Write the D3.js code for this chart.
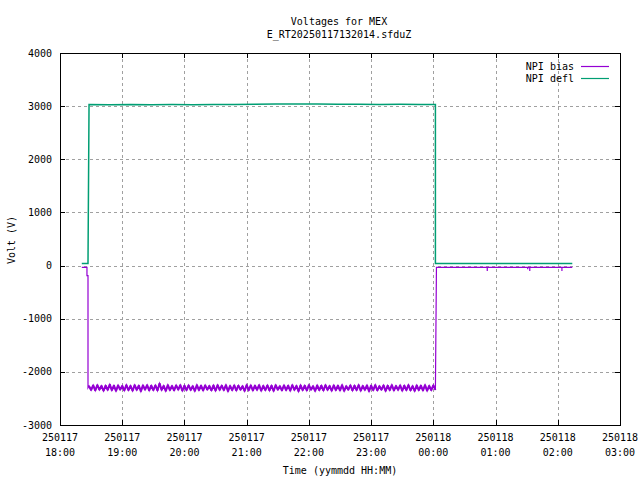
<!DOCTYPE html>
<html>
<head>
<meta charset="utf-8">
<script src="https://cdn.jsdelivr.net/npm/d3@7"></script>
<style>
  html, body { margin: 0; padding: 0; background: #fff; }
  svg text { font-family: "DejaVu Sans Mono", monospace; font-size: 10px; fill: #000; }
</style>
</head>
<body>
<svg id="chart" width="640" height="480"></svg>
<script>
// ---------------- DATA ----------------
const titleLines = ["Voltages for MEX", "E_RT20250117132014.sfduZ"];
const xLabel = "Time (yymmdd HH:MM)";
const yLabel = "Volt (V)";
const xDomain = ["250117 18:00", "250118 03:00"];
const yTicks = [-3000, -2000, -1000, 0, 1000, 2000, 3000, 4000];
const seriesNames = ["NPI bias", "NPI defl"];
const seriesColors = ["#9400d3", "#009e73"];

// NPI bias: lead-in, noisy plateau (sampled every 2 min), tail
const biasLead = [
  ["250117 18:21", -35], ["250117 18:26", -35], ["250117 18:26", -190],
  ["250117 18:27", -190], ["250117 18:27", -2300]
];
const biasNoiseStart = "250117 18:28";
const biasNoiseStepMin = 2;
const biasNoise = [
  -2265,-2345,-2250,-2355,-2245,-2340,-2260,-2360,-2255,-2345,
  -2235,-2350,-2255,-2365,-2250,-2340,-2260,-2355,-2245,-2350,
  -2260,-2360,-2245,-2345,-2255,-2370,-2250,-2340,-2245,-2355,
  -2255,-2350,-2250,-2355,-2215,-2345,-2260,-2365,-2245,-2350,
  -2260,-2355,-2250,-2340,-2245,-2360,-2255,-2350,-2250,-2345,
  -2265,-2365,-2245,-2350,-2255,-2355,-2250,-2340,-2260,-2355,
  -2250,-2360,-2245,-2345,-2255,-2350,-2245,-2370,-2260,-2350,
  -2250,-2355,-2255,-2340,-2265,-2365,-2245,-2350,-2250,-2355,
  -2255,-2345,-2245,-2360,-2260,-2350,-2250,-2355,-2255,-2365,
  -2245,-2340,-2265,-2355,-2250,-2350,-2255,-2360,-2245,-2345,
  -2260,-2370,-2250,-2350,-2255,-2355,-2245,-2340,-2265,-2365,
  -2250,-2350,-2255,-2355,-2245,-2345,-2260,-2360,-2250,-2350,
  -2255,-2355,-2245,-2365,-2265,-2340,-2250,-2355,-2255,-2350,
  -2245,-2360,-2260,-2345,-2250,-2370,-2255,-2350,-2245,-2355,
  -2265,-2340,-2250,-2365,-2255,-2350,-2245,-2355,-2260,-2345,
  -2250,-2360,-2255,-2350,-2245,-2355,-2265,-2365,-2250,-2350,
  -2255,-2355,-2245,-2360,-2260,-2350,-2250,-2340
];
const biasTail = [
  ["250118 00:03", -35], ["250118 00:52", -35], ["250118 00:52", -100],
  ["250118 00:52", -35], ["250118 01:31", -35], ["250118 01:31", -70],
  ["250118 01:31", -35], ["250118 01:33", -35], ["250118 01:33", -100],
  ["250118 01:33", -35], ["250118 02:04", -35], ["250118 02:04", -100],
  ["250118 02:04", -35], ["250118 02:14", -35]
];

// NPI defl
const deflPoints = [
  ["250117 18:21", 40], ["250117 18:27", 40], ["250117 18:28", 3030],
  ["250117 18:48", 3028], ["250117 19:08", 3032], ["250117 19:28", 3027],
  ["250117 19:48", 3030], ["250117 20:08", 3026], ["250117 20:28", 3029],
  ["250117 20:48", 3033], ["250117 21:08", 3035], ["250117 21:28", 3038],
  ["250117 21:48", 3040], ["250117 22:08", 3038], ["250117 22:28", 3036],
  ["250117 22:48", 3034], ["250117 23:08", 3032], ["250117 23:28", 3035],
  ["250117 23:48", 3033], ["250118 00:02", 3032], ["250118 00:02", 40],
  ["250118 02:14", 40]
];

// ---------------- CHART ----------------
const parse = d3.timeParse("%y%m%d %H:%M");
const svg = d3.select("#chart");
const L = 60, R = 620, T = 53, B = 425;

const x = d3.scaleTime().domain(xDomain.map(parse)).range([L, R]);
const y = d3.scaleLinear().domain([-3000, 4000]).range([B, T]);

const startNoise = parse(biasNoiseStart);
const noiseData = biasNoise.map((v, i) => [d3.timeMinute.offset(startNoise, i * biasNoiseStepMin), v]);
const biasData = [
  ...biasLead.map(d => [parse(d[0]), d[1]]),
  ...noiseData,
  ...biasTail.map(d => [parse(d[0]), d[1]])
];
const deflData = deflPoints.map(d => [parse(d[0]), d[1]]);

const xTicks = x.ticks(d3.timeHour.every(1));

// grid
const grid = svg.append("g").attr("stroke", "#a0a0a0").attr("stroke-width", 1)
  .attr("stroke-dasharray", "3,3").attr("shape-rendering", "crispEdges");
xTicks.filter(t => x(t) > L + 1 && x(t) < R - 1).forEach(t => {
  grid.append("line").attr("x1", Math.round(x(t)) + 0.5).attr("x2", Math.round(x(t)) + 0.5)
    .attr("y1", T).attr("y2", B);
});
yTicks.filter(v => y(v) > T + 1 && y(v) < B - 1).forEach(v => {
  grid.append("line").attr("y1", Math.round(y(v)) + 0.5).attr("y2", Math.round(y(v)) + 0.5)
    .attr("x1", L).attr("x2", R);
});

// axes (ticks inward, mirrored)
const tl = 5;
const axisG = svg.append("g").attr("stroke", "#000").attr("stroke-width", 1).attr("shape-rendering", "crispEdges");
xTicks.forEach(t => {
  const px = Math.round(x(t)) + 0.5;
  axisG.append("line").attr("x1", px).attr("x2", px).attr("y1", B).attr("y2", B - tl);
  axisG.append("line").attr("x1", px).attr("x2", px).attr("y1", T).attr("y2", T + tl);
});
yTicks.forEach(v => {
  const py = Math.round(y(v)) + 0.5;
  axisG.append("line").attr("y1", py).attr("y2", py).attr("x1", L).attr("x2", L + tl);
  axisG.append("line").attr("y1", py).attr("y2", py).attr("x1", R).attr("x2", R - tl);
});

// tick labels
const fmtD = d3.timeFormat("%y%m%d"), fmtT = d3.timeFormat("%H:%M");
xTicks.forEach(t => {
  svg.append("text").attr("x", x(t)).attr("y", 441).attr("text-anchor", "middle").text(fmtD(t));
  svg.append("text").attr("x", x(t)).attr("y", 456).attr("text-anchor", "middle").text(fmtT(t));
});
yTicks.forEach(v => {
  svg.append("text").attr("x", 52).attr("y", y(v) + 3.5).attr("text-anchor", "end").text(v);
});

// data lines
const line = d3.line().x(d => x(d[0])).y(d => y(d[1]));
svg.append("path").datum(deflData).attr("d", line).attr("fill", "none")
  .attr("stroke", seriesColors[1]).attr("stroke-width", 1.5);
svg.append("path").datum(biasData).attr("d", line).attr("fill", "none")
  .attr("stroke", seriesColors[0]).attr("stroke-width", 1.2);
svg.append("path").datum(noiseData).attr("d", line).attr("fill", "none")
  .attr("stroke", seriesColors[0]).attr("stroke-width", 2).attr("stroke-linejoin", "bevel");

// border
svg.append("rect").attr("x", L + 0.5).attr("y", T + 0.5).attr("width", R - L).attr("height", B - T)
  .attr("fill", "none").attr("stroke", "#000").attr("stroke-width", 1).attr("shape-rendering", "crispEdges");

// legend
seriesNames.forEach((n, i) => {
  const ly = 66 + i * 12;
  svg.append("text").attr("x", 574).attr("y", ly + 3.5).attr("text-anchor", "end").text(n);
  svg.append("line").attr("x1", 581).attr("x2", 609).attr("y1", ly + 0.5).attr("y2", ly + 0.5)
    .attr("stroke", seriesColors[i]).attr("stroke-width", 1.2);
});

// titles
titleLines.forEach((s, i) => {
  svg.append("text").attr("x", 339).attr("y", 25 + i * 13).attr("text-anchor", "middle").text(s);
});
svg.append("text").attr("x", 340).attr("y", 474).attr("text-anchor", "middle").text(xLabel);
svg.append("text").attr("transform", "translate(15,240) rotate(-90)").attr("text-anchor", "middle").text(yLabel);
</script>
</body>
</html>
